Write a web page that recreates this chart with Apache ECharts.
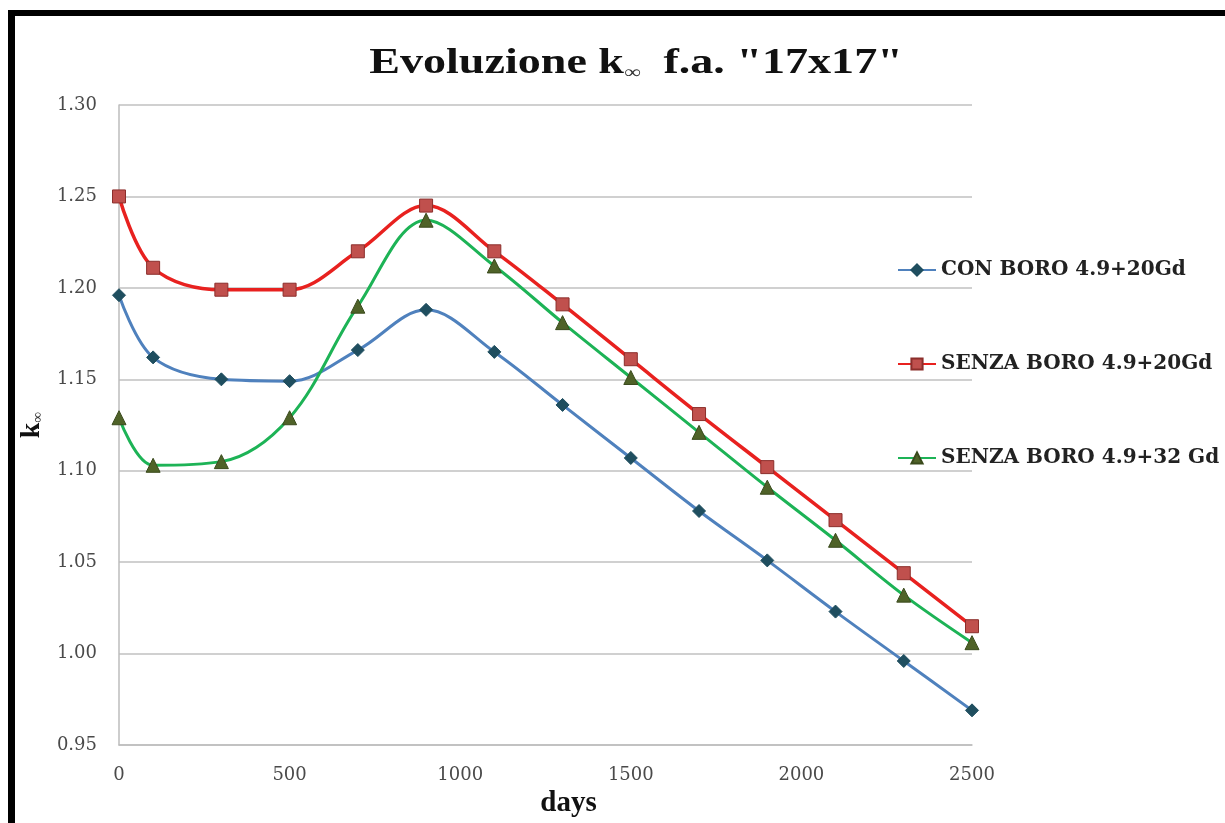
<!DOCTYPE html>
<html>
<head>
<meta charset="utf-8">
<script src="https://cdn.jsdelivr.net/npm/echarts@6/dist/echarts.min.js"></script>
<style>
html,body{margin:0;padding:0;background:#fff;}
#frame{position:absolute;left:8px;top:10px;width:1217px;height:813px;border-left:7px solid #000;border-top:6px solid #000;box-sizing:border-box;}
#chart{position:absolute;left:0;top:0;width:1225px;height:823px;}
</style>
</head>
<body>
<div id="chart"></div>
<div id="frame"></div>
<script>
const days = [0, 100, 300, 500, 700, 900, 1100, 1300, 1500, 1700, 1900, 2100, 2300, 2500];
const conBoro20 = [1.196, 1.162, 1.150, 1.149, 1.166, 1.188, 1.165, 1.136, 1.107, 1.078, 1.051, 1.023, 0.996, 0.969];
const senzaBoro20 = [1.250, 1.211, 1.199, 1.199, 1.220, 1.245, 1.220, 1.191, 1.161, 1.131, 1.102, 1.073, 1.044, 1.015];
const senzaBoro32 = [1.129, 1.103, 1.105, 1.129, 1.190, 1.237, 1.212, 1.181, 1.151, 1.121, 1.091, 1.062, 1.032, 1.006];
const seriesNames = ['CON BORO 4.9+20Gd', 'SENZA BORO 4.9+20Gd', 'SENZA BORO 4.9+32 Gd'];
const yTicks = [0.95, 1.00, 1.05, 1.10, 1.15, 1.20, 1.25, 1.30];
const xTicks = [0, 500, 1000, 1500, 2000, 2500];

const pair = (arr) => days.map((d, i) => [d, arr[i]]);
const serif = '"Liberation Serif", "Times New Roman", serif';
const wideSerif = '"DejaVu Serif", serif';

const chart = echarts.init(document.getElementById('chart'));
chart.setOption({
  backgroundColor: '#fff',
  animation: false,
  graphic: [{
    type: 'text',
    x: 636, y: 64,
    scaleX: 1.28,
    style: {
      text: '{a|Evoluzione k}{s|∞}{a|  f.a. "17x17"}',
      align: 'center', verticalAlign: 'middle',
      rich: {
        a: { fontFamily: serif, fontWeight: 'bold', fontSize: 36, fill: '#111', color: '#111' },
        s: { fontFamily: serif, fontWeight: 'normal', fontSize: 18, fill: '#333', color: '#333', verticalAlign: 'bottom', padding: [14, 0, 0, 0] }
      }
    }
  }],
  legend: {
    orient: 'vertical',
    left: 892,
    top: 255,
    itemGap: 74,
    itemWidth: 38,
    itemHeight: 14,
    textStyle: { fontFamily: wideSerif, fontWeight: 'bold', fontSize: 20, lineHeight: 20, color: '#222' },
    data: seriesNames
  },
  grid: { left: 119, right: 253, top: 105, height: 661, containLabel: false },
  xAxis: {
    type: 'value',
    min: 0, max: 2500, interval: 500,
    name: 'days',
    nameLocation: 'middle',
    nameGap: 36,
    nameTextStyle: { fontFamily: serif, fontWeight: 'bold', fontSize: 29, color: '#111', padding: [0, 0, 0, 46] },
    axisLine: { show: true, lineStyle: { color: '#bdbdbd', width: 1.5 } },
    axisTick: { show: false },
    splitLine: { show: false },
    axisLabel: { fontFamily: wideSerif, fontSize: 18, color: '#4a4a4a', margin: 21,
      formatter: (v) => xTicks.includes(v) ? String(v) : '' }
  },
  yAxis: {
    type: 'value',
    min: 0.95, max: 1.30, interval: 0.05,
    name: '{k|k}{s|∞}',
    nameLocation: 'middle',
    nameRotate: 90,
    nameGap: 70,
    nameTextStyle: {
      rich: {
        k: { fontFamily: serif, fontWeight: 'bold', fontSize: 28, color: '#111' },
        s: { fontFamily: serif, fontSize: 15, color: '#333', padding: [12, 0, 0, 0] }
      }
    },
    axisLine: { show: true, lineStyle: { color: '#bdbdbd', width: 1.5 } },
    axisTick: { show: false },
    splitLine: { show: true, lineStyle: { color: '#d0d0d0', width: 2 } },
    axisLabel: { fontFamily: wideSerif, fontSize: 18, color: '#4a4a4a', margin: 22,
      formatter: (v) => { const t = yTicks.find(y => Math.abs(y - v) < 1e-6); return t !== undefined ? t.toFixed(2) : ''; } }
  },
  series: [
    {
      name: seriesNames[0], type: 'line', smooth: 0.35, data: pair(conBoro20),
      symbol: 'diamond', symbolSize: 13,
      lineStyle: { color: '#4F81BD', width: 3 },
      itemStyle: { color: '#1F4E5F', borderColor: '#1F4E5F', borderWidth: 1 }, z: 3
    },
    {
      name: seriesNames[1], type: 'line', smooth: 0.35, data: pair(senzaBoro20),
      symbol: 'rect', symbolSize: 13,
      lineStyle: { color: '#E8211F', width: 3.5 },
      itemStyle: { color: '#C0504D', borderColor: '#8B2E2B', borderWidth: 1 }, z: 4
    },
    {
      name: seriesNames[2], type: 'line', smooth: 0.35, data: pair(senzaBoro32),
      symbol: 'triangle', symbolSize: 14,
      lineStyle: { color: '#1DB356', width: 3 },
      itemStyle: { color: '#4F6228', borderColor: '#3A4A1C', borderWidth: 1 }, z: 5
    }
  ]
});
</script>
</body>
</html>
